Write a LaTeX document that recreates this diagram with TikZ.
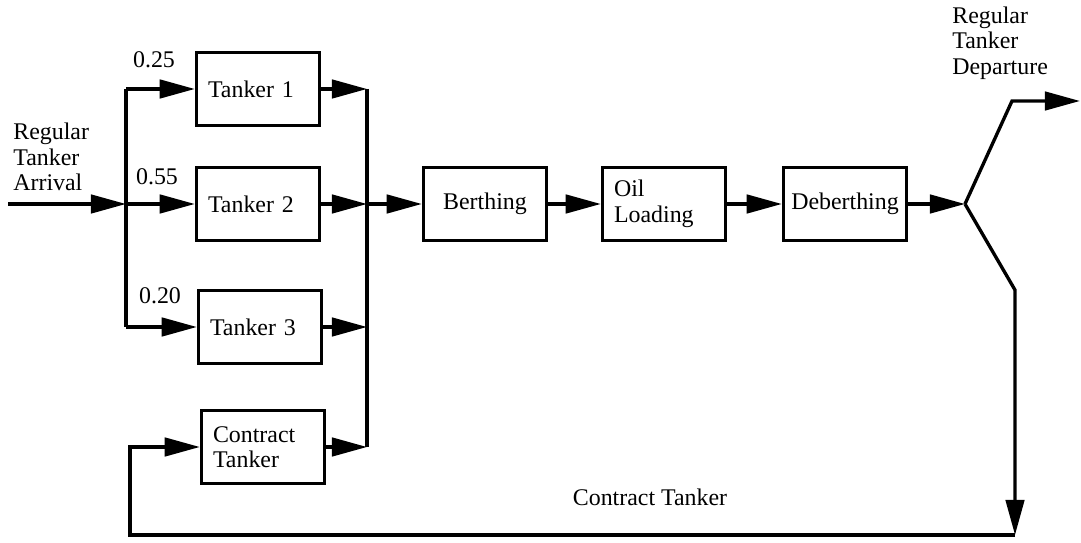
\documentclass[tikz,border=0pt]{standalone}
\usepackage{fontspec}
\setmainfont{Liberation Serif}
\usetikzlibrary{arrows.meta}
\tikzset{
  box/.style={draw,line width=1.9pt,minimum width=2.46cm,minimum height=1.46cm,inner sep=0pt,font=\fontsize{13.6}{14.5}\selectfont},
  lbox/.style={box,align=left,text width=2.0cm},
  cbox/.style={box,align=center},
  flow/.style={-{Triangle[length=20pt,width=10.5pt]},line width=1.9pt},
  wire/.style={line width=1.9pt},
  lab/.style={font=\fontsize{13.6}{14.5}\selectfont,align=left,inner sep=0pt},
}

\begin{document}
\begin{tikzpicture}[x=0.02cm,y=-0.02cm]
\useasboundingbox (0,0) rectangle (1081,543);
% ================= Tanker classes =================
\node[lbox] (t1) at (258,89) {Tanker 1};
\node[lbox] (t2) at (258,204) {Tanker 2};
\node[lbox] (t3) at (260,327) {Tanker 3};
\node[lbox] (ct) at (263,447) {Contract\\Tanker};
\node[lab] (p1) at (154,60) {0.25};
\node[lab] (p2) at (157,177) {0.55};
\node[lab] (p3) at (160,296) {0.20};
\node[lab,anchor=west] (arr) at (13,157) {Regular\\Tanker\\Arrival};

% ================= Port stations =================
\node[cbox] (berth) at (485,204) {Berthing};
\node[lbox] (oil) at (664,204) {Oil\\Loading};
\node[cbox] (deb) at (845,204) {Deberthing};
\node[lab,anchor=west] (dep) at (952,43) {Regular\\Tanker\\Departure};
\node[lab] (ctl) at (650,497) {Contract Tanker};

% split of the arrivals
\coordinate (in) at (8,204);
\coordinate (fork) at (126,204);
\draw[flow] (in) -- (fork);
\draw[wire] (fork |- t1) -- (fork |- t3);
\foreach \n in {t1,t2,t3}{
  \draw[flow] (fork |- \n) -- (\n.west);
}
% collector
\coordinate (join) at (367,204);
\draw[wire] (join |- t1) -- (join |- ct);
\foreach \n in {t1,t2,t3,ct}{
  \draw[flow] (\n.east) -- (join |- \n);
}
\draw[flow] (join) -- (berth.west);
\draw[flow] (berth.east) -- (oil.west);
\draw[flow] (oil.east) -- (deb.west);

% departure and return loop
\coordinate (split) at (965,204);
\coordinate (up) at (1012,101);
\coordinate (out) at (1080,101);
\coordinate (down) at (1015,290);
\coordinate (back) at (1015,535);
\coordinate (loop) at (130,535);
\draw[flow] (deb.east) -- (split);
\draw[flow] (split) -- (up) -- (out);
\draw[flow] (split) -- (down) -- (back);
\draw[flow] (back) -- (loop) -- (loop |- ct) -- (ct.west);
\end{tikzpicture}
\end{document}
